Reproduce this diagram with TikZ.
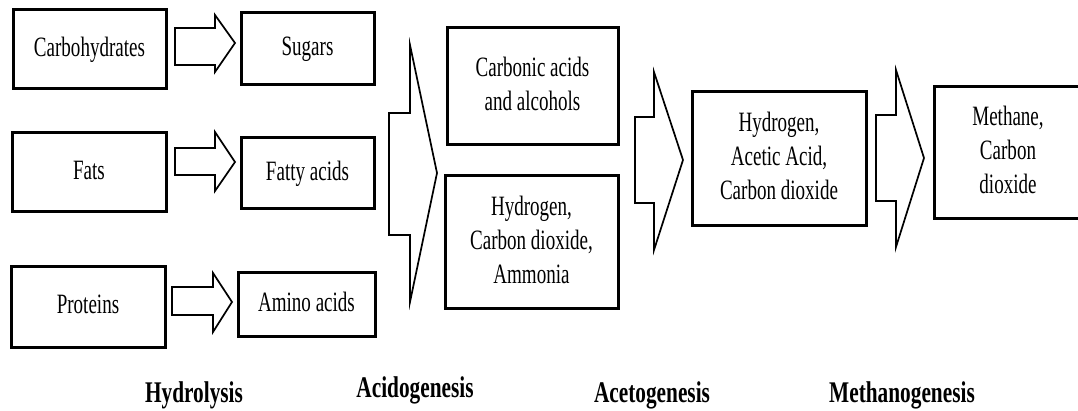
\documentclass[tikz,border=0pt]{standalone}
\usepackage{fontspec}
\setmainfont{Liberation Serif}[FakeStretch=0.68]
\newfontfamily\labfont{Liberation Serif}[FakeStretch=0.71]
\newcommand\mltext[2][0pt]{\raisebox{#1}{\begin{tabular}{@{}c@{}}#2\end{tabular}}}
\begin{document}
\begin{tikzpicture}[x=1pt,y=-1pt,
  box/.style={draw=black, line width=3pt, inner sep=0pt, fill=white,
    font=\fontsize{28}{34}\selectfont},
  blk/.style={draw=black, line width=1.7pt, line join=miter, fill=white},
  stage/.style={font=\labfont\bfseries\fontsize{30}{34}\selectfont, anchor=base, inner sep=0pt}]
\useasboundingbox[fill=white] (0,0) rectangle (1078,411);
\renewcommand\arraystretch{1}
% block arrows
\newcommand\barrow[8]{\draw[blk] (#1,#2) -- (#4,#2) -- (#4,#5) -- (#7,#8) -- (#4,#6) -- (#4,#3) -- (#1,#3) -- cycle;}
\barrow{175}{28}{65}{215}{15}{72}{235}{43}
\barrow{175}{148}{175}{215}{132}{191}{235}{162}
\barrow{172}{287}{315}{213}{273}{332}{232}{302}
\barrow{389}{113}{235}{410}{45}{302}{437}{173}
\barrow{635}{117}{203}{654}{72}{250}{683}{160}
\barrow{876}{115}{201}{896}{70}{247}{924}{158}
% boxes
\node[box, minimum width=153pt, minimum height=79pt] (carb) at (89.5,49.5) {\mltext[6pt]{Carbohydrates}};
\node[box, minimum width=133pt, minimum height=72pt] (sugar) at (307.5,49) {\mltext[3pt]{Sugars}};
\node[box, minimum width=154pt, minimum height=79pt] (fats) at (89,172.5) {\mltext[6pt]{Fats}};
\node[box, minimum width=133pt, minimum height=71pt] (fatty) at (307.5,173.5) {\mltext[1pt]{Fatty acids}};
\node[box, minimum width=154pt, minimum height=80pt] (prot) at (88,307) {\mltext[6pt]{Proteins}};
\node[box, minimum width=137pt, minimum height=63pt] (amino) at (306.5,304.5) {\mltext{Amino acids}};
\node[box, minimum width=171pt, minimum height=117pt] (carbonic) at (532.5,86.5) {\mltext[6pt]{Carbonic acids\\and alcohols}};
\node[box, minimum width=173pt, minimum height=133pt] (hyd) at (531.5,242.5) {\mltext{Hydrogen,\\Carbon dioxide,\\Ammonia}};
\node[box, minimum width=174pt, minimum height=134pt] (hac) at (779,159) {\mltext{Hydrogen,\\Acetic Acid,\\Carbon dioxide}};
\node[box, minimum width=148pt, minimum height=132pt] (meth) at (1008,153) {\mltext{Methane,\\Carbon\\dioxide}};
% stage labels
\node[stage] (l1) at (194,402) {Hydrolysis};
\node[stage] (l2) at (415,397) {Acidogenesis};
\node[stage] (l3) at (652,402) {Acetogenesis};
\node[stage] (l4) at (902,402) {Methanogenesis};
\end{tikzpicture}
\end{document}
